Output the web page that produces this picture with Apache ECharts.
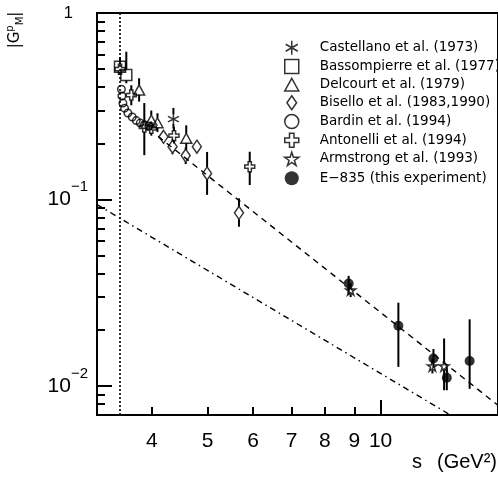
<!DOCTYPE html>
<html><head><meta charset="utf-8">
<script src="https://cdn.jsdelivr.net/npm/echarts@6/dist/echarts.min.js"></script>
<style>html,body{margin:0;padding:0;background:#fff}#c{width:498px;height:478px}</style>
</head><body><div id="c"></div>
<script>
// ---- axis ranges and ticks ----
const xMin = 3.21, xMax = 16.01, yMin = 0.007, yMax = 1;
const xTickSmall = [4, 5, 6, 7, 8, 9];
const xTickLarge = [10];
const xTickLabels = [4, 5, 6, 7, 8, 9, 10];
const yTickLarge = [0.01, 0.1, 1];
const yTickSmall = [0.008, 0.009, 0.02, 0.03, 0.04, 0.05, 0.06, 0.07, 0.08, 0.09, 0.2, 0.3, 0.4, 0.5, 0.6, 0.7, 0.8, 0.9];
const yTickLabels = [0.01, 0.1, 1];

// ---- data (s in GeV^2, |G_M|) ----
const castellanoS = [4.36];
const castellanoG = [0.270];
const castellanoLo = [0.240];
const castellanoHi = [0.310];

const bassompierreS = [3.52, 3.61];
const bassompierreG = [0.515, 0.465];
const bassompierreLo = [0.47, 0.42];
const bassompierreHi = [0.58, 0.62];

const delcourtS = [3.80, 3.99, 4.09, 4.59];
const delcourtG = [0.387, 0.267, 0.258, 0.213];
const delcourtLo = [0.335, 0.235, 0.230, 0.185];
const delcourtHi = [0.447, 0.300, 0.290, 0.250];

const biselloS = [4.19, 4.345, 4.58, 4.79, 4.99, 5.67];
const biselloG = [0.217, 0.192, 0.172, 0.192, 0.138, 0.0849];
const biselloLo = [0.200, 0.175, 0.155, 0.178, 0.106, 0.0715];
const biselloHi = [0.235, 0.210, 0.190, 0.206, 0.180, 0.1015];

const bardinS = [3.54, 3.547, 3.561, 3.585, 3.633, 3.697, 3.757, 3.817, 3.883, 3.95];
const bardinG = [0.390, 0.359, 0.329, 0.309, 0.291, 0.277, 0.265, 0.257, 0.252, 0.248];

const antonelliS = [3.52, 3.683, 3.88, 3.99, 4.37, 5.92];
const antonelliG = [0.500, 0.363, 0.245, 0.241, 0.220, 0.150];
const antonelliLo = [0.470, 0.320, 0.173, 0.220, 0.200, 0.1196];
const antonelliHi = [0.580, 0.410, 0.329, 0.262, 0.245, 0.1804];

const armstrongS = [8.87, 12.31, 12.90];
const armstrongG = [0.0327, 0.0128, 0.0128];
const armstrongLo = [0.0300, 0.0117, 0.0095];
const armstrongHi = [0.0355, 0.0140, 0.0180];

const e835S = [8.80, 10.74, 12.36, 13.04, 14.29];
const e835G = [0.0355, 0.02105, 0.01407, 0.01108, 0.01362];
const e835Lo = [0.031, 0.01268, 0.0125, 0.0095, 0.00967];
const e835Hi = [0.039, 0.0280, 0.0158, 0.0127, 0.0228];

// curves
const fitS = [4.1, 16.0];
const fitG = [0.218, 0.0079];
const pqcdS = [3.21, 13.23];
const pqcdG = [0.094, 0.0070];
const thresholdS = 3.52;

// ---- symbols ----
const SYM_AST = 'path://M5,0 L5,10 M0.67,2.5 L9.33,7.5 M0.67,7.5 L9.33,2.5';
const SYM_SQ = 'path://M0,0 H10 V10 H0 Z';
const SYM_TRI = 'path://M5,0 L10,9 L0,9 Z';
const SYM_DIA = 'path://M4.5,0 L9,6.5 L4.5,13 L0,6.5 Z';
const SYM_CROSS = 'path://M3.4,0 H6.6 V3.4 H10 V6.6 H6.6 V10 H3.4 V6.6 H0 V3.4 H3.4 Z';
const SYM_STAR = 'path://M10,0 L12.23,6.93 L19.51,6.91 L13.61,11.17 L15.88,18.09 L10,13.8 L4.12,18.09 L6.39,11.17 L0.49,6.91 L7.77,6.93 Z';

const hollow = {color: 'rgba(0,0,0,0)', borderColor: '#000', borderWidth: 1.5};
const filled = {color: '#000', borderColor: '#000', borderWidth: 0};

const zip = (a, b) => a.map((v, i) => [v, b[i]]);
const errRows = [];
function addErr(S, G, Lo, Hi, gap) {
  S.forEach((s, i) => errRows.push([s, G[i], Lo[i], Hi[i], gap]));
}
addErr(castellanoS, castellanoG, castellanoLo, castellanoHi, 5);
addErr(bassompierreS, bassompierreG, bassompierreLo, bassompierreHi, 5.5);
addErr(delcourtS, delcourtG, delcourtLo, delcourtHi, 5);
addErr(biselloS, biselloG, biselloLo, biselloHi, 6.5);
addErr(antonelliS, antonelliG, antonelliLo, antonelliHi, 5);
addErr(armstrongS, armstrongG, armstrongLo, armstrongHi, 4);
addErr(e835S, e835G, e835Lo, e835Hi, 0);

const FONT = 'Liberation Sans';
const LFONT = 'DejaVu Sans';

const baseX = {type: 'log', min: xMin, max: xMax, gridIndex: 0, position: 'bottom',
  splitLine: {show: false}, minorTick: {show: false}};
const baseY = {type: 'log', min: yMin, max: yMax, gridIndex: 0, position: 'left',
  splitLine: {show: false}, minorTick: {show: false}};

const legendText = {fontFamily: LFONT, fontSize: 13.5, color: '#000', lineHeight: 14, padding: [0, 0, 0, 16]};

const chart = echarts.init(document.getElementById('c'), null, {renderer: 'canvas'});
chart.setOption({
  animation: false,
  backgroundColor: '#fff',
  grid: {left: 97, top: 13, width: 404, height: 402, show: true, borderColor: '#000', borderWidth: 2, backgroundColor: 'transparent'},
  xAxis: [
    Object.assign({}, baseX, {
      axisLine: {show: true, lineStyle: {color: '#000', width: 2}},
      axisTick: {show: true, inside: true, length: 8, lineStyle: {color: '#000', width: 2}, customValues: xTickSmall},
      axisLabel: {show: true, customValues: xTickLabels, margin: 16, color: '#000', fontFamily: FONT, fontSize: 21,
        formatter: v => String(Math.round(v))}
    }),
    Object.assign({}, baseX, {
      axisLine: {show: false},
      axisTick: {show: true, inside: true, length: 15, lineStyle: {color: '#000', width: 2}, customValues: xTickLarge},
      axisLabel: {show: false}
    })
  ],
  yAxis: [
    Object.assign({}, baseY, {
      axisLine: {show: true, lineStyle: {color: '#000', width: 2}},
      axisTick: {show: true, inside: true, length: 15, lineStyle: {color: '#000', width: 2}, customValues: yTickLarge},
      axisLabel: {show: true, customValues: yTickLabels, margin: 9, color: '#000', fontFamily: FONT,
        formatter: v => {
          if (Math.abs(v - 1) < 1e-9) return '{one|1}';
          const e = Math.round(Math.log10(v));
          return '{b|10}{s|\u2212' + Math.abs(e) + '}';
        },
        rich: {
          one: {fontSize: 16.5, fontFamily: FONT, color: '#000', padding: [0, 15, 0, 0]},
          b: {fontSize: 21, fontFamily: FONT, color: '#000', lineHeight: 40, verticalAlign: 'middle'},
          s: {fontSize: 15, fontFamily: FONT, color: '#000', lineHeight: 15, verticalAlign: 'top'}
        }
      }
    }),
    Object.assign({}, baseY, {
      axisLine: {show: false},
      axisTick: {show: true, inside: true, length: 8, lineStyle: {color: '#000', width: 2}, customValues: yTickSmall},
      axisLabel: {show: false}
    })
  ],
  legend: [
    {
      selectedMode: false, orient: 'vertical', left: 284, top: 40, padding: 0, itemWidth: 14, itemHeight: 14, itemGap: 3.3,
      textStyle: legendText,
      data: [
        {name: 'Castellano et al. (1973)', icon: SYM_AST, itemStyle: hollow},
        {name: 'Bassompierre et al. (1977)', icon: SYM_SQ, itemStyle: hollow},
        {name: 'Delcourt et al. (1979)', icon: SYM_TRI, itemStyle: hollow},
        {name: 'Bisello et al. (1983,1990)', icon: SYM_DIA, itemStyle: hollow},
        {name: 'Bardin et al. (1994)', icon: 'circle', itemStyle: hollow},
        {name: 'Antonelli et al. (1994)', icon: SYM_CROSS, itemStyle: hollow}
      ]
    },
    {
      selectedMode: false, orient: 'vertical', left: 284, top: 151.5, padding: 0, itemWidth: 14, itemHeight: 14, itemGap: 5,
      textStyle: legendText,
      data: [
        {name: 'Armstrong et al. (1993)', icon: SYM_STAR, itemStyle: hollow},
        {name: 'E\u2212835 (this experiment)', icon: 'circle', itemStyle: filled}
      ]
    }
  ],
  graphic: [
    {type: 'text', x: 412, y: 452, style: {text: 's', font: '20px "Liberation Sans"', fill: '#000'}},
    {type: 'text', x: 437, y: 452, style: {text: '(GeV\u00b2)', font: '20px "Liberation Sans"', fill: '#000'}},
    {type: 'text', x: 15, y: 30, rotation: Math.PI / 2,
      style: {text: '{a||G}{p|p}{m|M}{a||}', align: 'center', verticalAlign: 'middle',
        rich: {
          a: {fontFamily: LFONT, fontSize: 15, fill: '#000', lineHeight: 20, verticalAlign: 'middle'},
          p: {fontFamily: LFONT, fontSize: 10, fill: '#000', lineHeight: 10, verticalAlign: 'top'},
          m: {fontFamily: LFONT, fontSize: 10, fill: '#000', lineHeight: 10, verticalAlign: 'bottom'}
        }}}
  ],
  series: [
    {type: 'line', name: 'threshold', data: [[thresholdS, yMin], [thresholdS, yMax]], symbol: 'none', silent: true,
      lineStyle: {color: '#000', width: 1.6, type: [2, 2]}, z: 1},
    {type: 'line', name: 'fit', data: zip(fitS, fitG), symbol: 'none', silent: true,
      lineStyle: {color: '#000', width: 1.4, type: [6, 5]}, z: 1},
    {type: 'line', name: 'pqcd', data: zip(pqcdS, pqcdG), symbol: 'none', silent: true,
      lineStyle: {color: '#000', width: 1.4, type: [6, 4, 1.5, 4]}, z: 1},
    {type: 'custom', name: 'errors', data: errRows, encode: {x: 0, y: 1}, silent: true, z: 2,
      renderItem: (params, api) => {
        const s = api.value(0), g = api.value(1), lo = api.value(2), hi = api.value(3), gap = api.value(4);
        const c = api.coord([s, g]), pl = api.coord([s, lo]), ph = api.coord([s, hi]);
        const kids = [];
        const st = {stroke: '#000', lineWidth: 2};
        if (pl[1] - c[1] > gap) kids.push({type: 'line', shape: {x1: c[0], y1: c[1] + gap, x2: c[0], y2: pl[1]}, style: st});
        if (c[1] - ph[1] > gap) kids.push({type: 'line', shape: {x1: c[0], y1: ph[1], x2: c[0], y2: c[1] - gap}, style: st});
        return {type: 'group', children: kids};
      }},
    {type: 'scatter', name: 'Bardin et al. (1994)', data: zip(bardinS, bardinG), symbol: 'circle', symbolSize: 7.5, itemStyle: hollow, z: 3},
    {type: 'scatter', name: 'Bassompierre et al. (1977)', data: zip(bassompierreS, bassompierreG), symbol: SYM_SQ, symbolSize: 11, itemStyle: hollow, z: 3},
    {type: 'scatter', name: 'Delcourt et al. (1979)', data: zip(delcourtS, delcourtG), symbol: SYM_TRI, symbolSize: [11, 10], itemStyle: hollow, z: 3},
    {type: 'scatter', name: 'Bisello et al. (1983,1990)', data: zip(biselloS, biselloG), symbol: SYM_DIA, symbolSize: [9, 13], itemStyle: hollow, z: 3},
    {type: 'scatter', name: 'Antonelli et al. (1994)', data: zip(antonelliS, antonelliG), symbol: SYM_CROSS, symbolSize: 10, itemStyle: hollow, z: 3},
    {type: 'scatter', name: 'Castellano et al. (1973)', data: zip(castellanoS, castellanoG), symbol: SYM_AST, symbolSize: 11, itemStyle: hollow, z: 3},
    {type: 'scatter', name: 'Armstrong et al. (1993)', data: zip(armstrongS, armstrongG), symbol: SYM_STAR, symbolSize: 10, itemStyle: hollow, z: 3},
    {type: 'scatter', name: 'E\u2212835 (this experiment)', data: zip(e835S, e835G), symbol: 'circle', symbolSize: 10, itemStyle: filled, z: 3}
  ]
});
</script>
</body></html>
